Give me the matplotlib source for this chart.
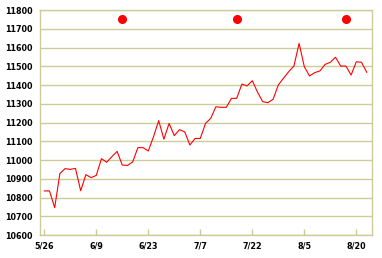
import matplotlib

matplotlib.use("Agg")
import matplotlib.pyplot as plt

# closing values, one per trading day
CLOSE = [
    10835, 10835, 10746, 10928, 10954, 10950, 10955, 10836, 10922, 10906,
    10918, 11007, 10988, 11018, 11046, 10973, 10971, 10990, 11066, 11066,
    11048, 11124, 11210, 11111, 11195, 11130, 11162, 11150, 11080, 11115,
    11115, 11195, 11222, 11284, 11281, 11281, 11329, 11329, 11405, 11395,
    11423, 11362, 11311, 11306, 11324, 11400, 11436, 11471, 11501, 11622,
    11498, 11448, 11466, 11475, 11510, 11521, 11548, 11501, 11501, 11453,
    11524, 11521, 11468,
]
# marker days shown as dots at the top
MARK_DAYS = [15, 37, 58]
MARK_LEVEL = 11750

TICK_DAYS = [0, 10, 20, 30, 40, 50, 60]
TICK_LABELS = ["5/26", "6/9", "6/23", "7/7", "7/22", "8/5", "8/20"]
Y_TICKS = list(range(10600, 11801, 100))

GRID = "#cccc99"

fig = plt.figure(figsize=(3.82, 2.58), dpi=100)
ax = fig.add_axes([39.5 / 382, 23 / 258, 332.2 / 382, 225 / 258])

ax.plot(range(len(CLOSE)), CLOSE, color="#ff0000", linewidth=0.8, zorder=3)
ax.plot(MARK_DAYS, [MARK_LEVEL] * len(MARK_DAYS), "o", color="#ff0000",
        markersize=5.5, zorder=4)

ax.set_xlim(-0.92, 62.96)
ax.set_ylim(10600, 11800)
ax.set_yticks(Y_TICKS)
ax.set_yticklabels([str(v) for v in Y_TICKS])
ax.set_xticks(TICK_DAYS)
ax.set_xticklabels(TICK_LABELS)

for v in Y_TICKS:
    ax.axhline(v, color=GRID, linewidth=1.0, zorder=1)

for spine in ax.spines.values():
    spine.set_color(GRID)
    spine.set_linewidth(1.0)

ax.tick_params(axis="y", length=0, pad=5, labelsize=5.8)
ax.tick_params(axis="x", direction="in", length=4, width=1.0, color=GRID,
               pad=5, labelsize=5.8)
for lab in ax.get_xticklabels() + ax.get_yticklabels():
    lab.set_fontweight("bold")
    lab.set_family("DejaVu Sans")

fig.savefig("out.png", dpi=100, facecolor="white")
